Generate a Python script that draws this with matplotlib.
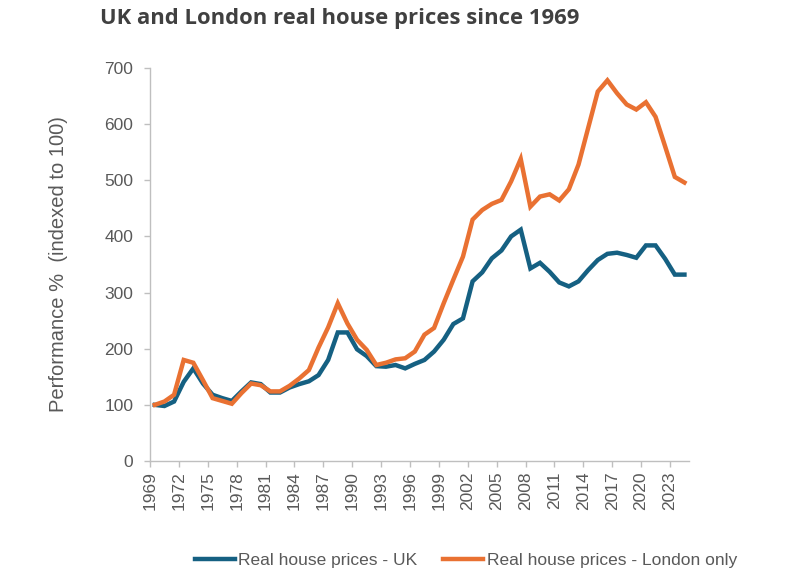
import matplotlib
matplotlib.use("Agg")
import matplotlib.pyplot as plt
import numpy as np

# real house price index (1969 = 100)
years = np.arange(1969, 2025)
uk = [100, 98, 106, 141, 165, 138, 118, 112, 107, 124,
      140, 137, 122, 122, 131, 137, 142, 153, 180, 229,
      229, 199, 187, 169, 168, 171, 165, 173, 180, 195,
      216, 244, 254, 320, 336, 361, 375, 400, 412, 343,
      353, 337, 318, 311, 320, 340, 358, 369, 371, 367,
      362, 384, 384, 360, 332, 332]
london = [100, 106, 118, 180, 175, 144, 112, 107, 102, 121,
          138, 135, 124, 124, 134, 147, 162, 202, 238, 281,
          245, 216, 198, 171, 175, 181, 183, 195, 225, 237,
          281, 323, 364, 430, 447, 458, 465, 498, 538, 453,
          471, 475, 464, 484, 528, 593, 658, 678, 655, 635,
          626, 639, 613, 560, 506, 496]
tick_years = np.arange(1969, 2024, 3)

grey = "#595959"
axis_grey = "#bfbfbf"
plt.rcParams['font.family'] = ['Liberation Sans', 'DejaVu Sans']

fig = plt.figure(figsize=(8.06, 5.81), dpi=100)
ax = fig.add_axes([0.1861, 0.2065, 0.6687, 0.6765])

# excel date axis: yearly points sit mid-year, tick on 1 Jan
ax.plot(years + 0.5, uk, color="#156082", lw=3.2, solid_joinstyle="miter",
        label="Real house prices - UK")
ax.plot(years + 0.5, london, color="#E97132", lw=3.2, solid_joinstyle="miter",
        label="Real house prices - London only")

ax.set_xlim(1969, 2024.97)
ax.set_ylim(0, 700)
ax.set_yticks(range(0, 701, 100))
ax.set_xticks(tick_years)
ax.set_xticklabels([str(y) for y in tick_years], rotation=90)
ax.tick_params(axis="both", colors=axis_grey, labelcolor=grey, labelsize=12.5,
               length=4, width=1)
ax.tick_params(axis="y", pad=8)
for s in ["top", "right"]:
    ax.spines[s].set_visible(False)
for s in ["left", "bottom"]:
    ax.spines[s].set_color(axis_grey)
    ax.spines[s].set_linewidth(1)

ax.set_ylabel("Performance %  (indexed to 100)", fontsize=14.5, color=grey,
              labelpad=26)

fig.text(0.124, 0.968, "UK and London real house prices since 1969",
         fontsize=15.8, fontweight="bold", color="#404040", va="center",
         family=["Open Sans", "DejaVu Sans"])

fig.legend(loc="center", bbox_to_anchor=(0.578, 0.036), ncol=2, frameon=False,
           fontsize=12.5, labelcolor=grey, handlelength=2.3, handletextpad=0.2,
           columnspacing=1.5)

fig.savefig("out.png", dpi=100)
